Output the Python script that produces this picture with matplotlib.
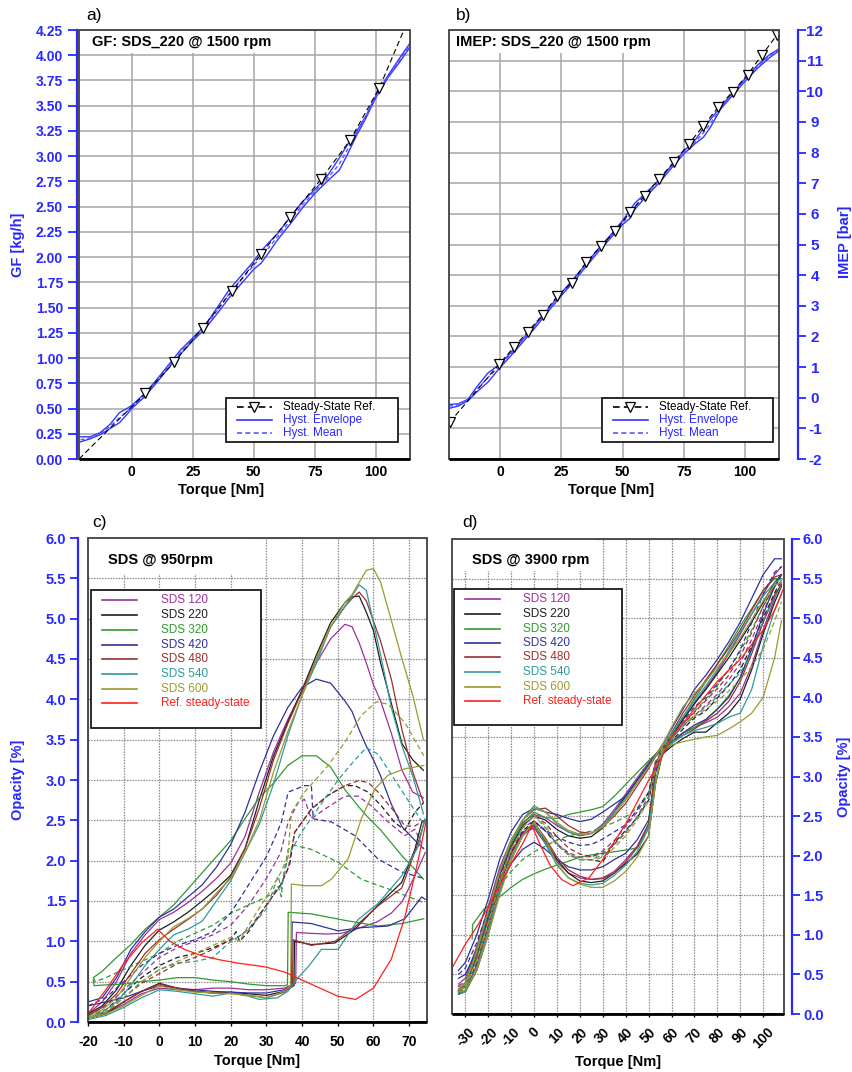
import matplotlib
matplotlib.use("Agg")
import matplotlib.pyplot as plt
from matplotlib.lines import Line2D
from matplotlib.patches import Rectangle

plt.rcParams['font.family'] = ['Liberation Sans', 'DejaVu Sans']

# ---------------- panel a: GF ----------------
A_TORQUE = [-21, -17, -13, -9, -5, -2, 0, 5, 10, 15, 20, 25, 30, 35, 40, 45, 50,
            53, 56, 60, 65, 70, 75, 80, 85, 88, 92, 96, 100, 105, 110, 114]
GF_ENV_UP = [0.22, 0.22, 0.26, 0.34, 0.46, 0.50, 0.53, 0.64, 0.78, 0.93, 1.08, 1.20, 1.32, 1.50, 1.68, 1.82, 1.96,
             2.06, 2.14, 2.24, 2.40, 2.55, 2.67, 2.80, 2.98, 3.10, 3.24, 3.40, 3.60, 3.80, 3.98, 4.12]
GF_ENV_LO = [0.17, 0.20, 0.24, 0.30, 0.36, 0.44, 0.50, 0.61, 0.75, 0.90, 1.04, 1.17, 1.29, 1.44, 1.60, 1.74, 1.88,
             1.94, 2.04, 2.18, 2.33, 2.49, 2.63, 2.75, 2.86, 3.00, 3.20, 3.38, 3.58, 3.78, 3.94, 4.08]
GF_MEAN = [0.19, 0.21, 0.25, 0.32, 0.41, 0.47, 0.515, 0.625, 0.765, 0.915, 1.06, 1.185, 1.305, 1.47, 1.64, 1.78, 1.92,
           2.00, 2.09, 2.21, 2.365, 2.52, 2.65, 2.775, 2.92, 3.05, 3.22, 3.39, 3.59, 3.79, 3.96, 4.10]
A_REF_TORQUE = [-21.6, 5.5, 17.5, 29.0, 41.0, 53.0, 65.0, 77.5, 89.5, 101.5, 111.5]
GF_REF = [0.0, 0.65, 0.96, 1.30, 1.66, 2.03, 2.40, 2.77, 3.16, 3.68, 4.25]
GF_TICKS = [0.0, 0.25, 0.5, 0.75, 1.0, 1.25, 1.5, 1.75, 2.0, 2.25, 2.5, 2.75, 3.0, 3.25, 3.5, 3.75, 4.0, 4.25]
AB_XTICKS = [0, 25, 50, 75, 100]

# ---------------- panel b: IMEP ----------------
B_TORQUE = [-20.8, -17, -13, -10, -5, 0, 5, 10, 15, 20, 25, 30, 35, 40, 45, 50, 53, 55,
            60, 65, 70, 75, 80, 83, 86, 90, 95, 100, 105, 110, 113.8]
IMEP_ENV_UP = [-0.22, -0.20, -0.05, 0.30, 0.80, 1.10, 1.52, 1.97, 2.45, 2.93, 3.42, 3.88, 4.36, 4.85, 5.30, 5.78,
               6.12, 6.35, 6.72, 7.12, 7.58, 8.05, 8.45, 8.80, 9.10, 9.50, 9.95, 10.42, 10.85, 11.20, 11.38]
IMEP_ENV_LO = [-0.35, -0.27, -0.10, 0.15, 0.50, 0.98, 1.42, 1.88, 2.35, 2.85, 3.33, 3.78, 4.27, 4.75, 5.20, 5.65,
               5.85, 6.15, 6.60, 7.02, 7.50, 7.96, 8.32, 8.50, 8.85, 9.42, 9.88, 10.33, 10.75, 11.10, 11.32]
IMEP_MEAN = [-0.28, -0.23, -0.07, 0.22, 0.65, 1.04, 1.47, 1.92, 2.40, 2.89, 3.37, 3.83, 4.31, 4.80, 5.25, 5.71,
             5.98, 6.25, 6.66, 7.07, 7.54, 8.00, 8.38, 8.65, 8.97, 9.46, 9.91, 10.37, 10.80, 11.15, 11.35]
B_REF_TORQUE = [-20.5, -0.3, 5.7, 11.4, 17.5, 23.4, 29.3, 35.2, 41.2, 47.0, 53.0, 59.0, 65.0, 71.0, 77.0,
                83.0, 89.0, 95.0, 101.0, 107.0, 113.0]
IMEP_REF = [-0.80, 1.10, 1.65, 2.16, 2.71, 3.32, 3.75, 4.43, 4.95, 5.43, 6.05, 6.59, 7.15, 7.70, 8.28,
            8.88, 9.48, 9.99, 10.54, 11.20, 11.84]
IMEP_TICKS = [-2, -1, 0, 1, 2, 3, 4, 5, 6, 7, 8, 9, 10, 11, 12]

# ---------------- panel c: opacity @ 950 rpm ----------------
SERIES = ['SDS 120', 'SDS 220', 'SDS 320', 'SDS 420', 'SDS 480', 'SDS 540', 'SDS 600']
SERIES_COLORS = ['#9b309b', '#1e1e1e', '#2f9a2f', '#30309a', '#9a2f2f', '#2f9a9a', '#9a9a2f']
REF_LABEL = 'Ref. steady-state'
REF_COLOR = '#ff1f1f'

C_UP_X = [-20, -16, -12, -8, -4, 0, 4, 8, 12, 16, 20, 24, 28, 32, 36, 40, 44, 48, 52,
          54, 56, 58, 60, 62, 65, 68, 71, 74]
C320_UP_X = [-18.5, -16, -12, -8, -4, 0, 4, 8, 12, 16, 20, 24, 28, 32, 36, 40, 44, 48, 52,
             54, 56, 58, 60, 62, 65, 68, 71, 74]
C120_UP = [0.10, 0.25, 0.50, 0.85, 1.08, 1.27, 1.36, 1.48, 1.62, 1.78, 1.97, 2.30, 2.85, 3.35, 3.75, 4.10, 4.45, 4.75, 4.93,
           4.90, 4.70, 4.45, 4.18, 3.98, 3.58, 3.12, 2.85, 2.78]
C220_UP = [0.10, 0.20, 0.40, 0.70, 0.95, 1.14, 1.24, 1.36, 1.50, 1.65, 1.82, 2.15, 2.75, 3.30, 3.72, 4.12, 4.55, 4.95, 5.20,
           5.27, 5.28, 5.08, 4.85, 4.45, 3.95, 3.45, 3.25, 3.12]
C320_UP = [0.55, 0.63, 0.80, 0.96, 1.15, 1.30, 1.45, 1.65, 1.85, 2.05, 2.25, 2.52, 2.78, 2.96, 3.18, 3.30, 3.30, 3.16, 2.88,
           2.77, 2.66, 2.56, 2.47, 2.38, 2.22, 2.06, 1.92, 1.77]
C420_UP = [0.25, 0.30, 0.55, 0.90, 1.12, 1.30, 1.40, 1.55, 1.70, 1.92, 2.20, 2.60, 3.10, 3.55, 3.90, 4.15, 4.25, 4.20, 3.98,
           3.85, 3.62, 3.42, 3.25, 3.05, 2.70, 2.42, 2.28, 2.15]
C480_UP = [0.08, 0.18, 0.35, 0.60, 0.85, 1.02, 1.15, 1.27, 1.40, 1.57, 1.80, 2.15, 2.65, 3.25, 3.70, 4.10, 4.50, 4.90, 5.15,
           5.25, 5.33, 5.22, 4.97, 4.72, 4.25, 3.62, 3.10, 2.72]
C540_UP = [0.05, 0.12, 0.25, 0.45, 0.70, 0.90, 1.08, 1.15, 1.25, 1.50, 1.75, 2.10, 2.45, 2.95, 3.55, 4.05, 4.45, 4.90, 5.15,
           5.28, 5.42, 5.35, 4.95, 4.55, 3.90, 3.42, 3.05, 2.58]
C600_UP = [0.07, 0.15, 0.30, 0.55, 0.80, 1.00, 1.18, 1.28, 1.40, 1.60, 1.78, 2.10, 2.50, 3.10, 3.60, 4.05, 4.50, 4.90, 5.20,
           5.30, 5.45, 5.60, 5.62, 5.45, 4.98, 4.50, 4.05, 3.50]

C120_LO_X = [-20, -15, -10, -5, 0, 5, 10, 15, 20, 25, 30, 35, 38.2, 38.4, 42, 47, 51, 55, 61, 65, 68, 71.6, 74.5]
C120_LO = [0.05, 0.10, 0.22, 0.35, 0.42, 0.40, 0.40, 0.42, 0.42, 0.40, 0.40, 0.42, 0.48, 1.11, 1.10, 1.09, 1.10, 1.15,
           1.24, 1.35, 1.49, 1.81, 2.10]
C220_LO_X = [-20, -15, -10, -5, 0, 5, 10, 15, 20, 25, 30, 35, 37.7, 37.9, 42.6, 49.2, 54.8, 61.3, 67.9, 71.6, 73.5, 74.5]
C220_LO = [0.05, 0.10, 0.25, 0.38, 0.48, 0.42, 0.38, 0.36, 0.37, 0.35, 0.33, 0.38, 0.45, 1.00, 0.96, 0.98, 1.15, 1.45,
           1.73, 2.14, 2.47, 2.50]
C320_LO_X = [-18.5, -18.3, -15, -10, -5, 0, 5, 10, 15, 20, 25, 30, 35, 35.9, 36.1, 42.6, 52, 61.3, 67.9, 74.1]
C320_LO = [0.52, 0.45, 0.46, 0.47, 0.50, 0.52, 0.55, 0.55, 0.52, 0.50, 0.47, 0.45, 0.45, 0.46, 1.36, 1.34, 1.26, 1.19,
           1.22, 1.28]
C420_LO_X = [-20, -15, -10, -5, 0, 5, 10, 15, 20, 25, 30, 35, 37.0, 37.2, 42.6, 50.1, 56.6, 64.1, 68.8, 73.5, 74.5]
C420_LO = [0.20, 0.25, 0.30, 0.38, 0.45, 0.42, 0.40, 0.38, 0.37, 0.36, 0.36, 0.40, 0.45, 1.24, 1.22, 1.13, 1.17, 1.19,
           1.28, 1.55, 1.52]
C480_LO_X = [-20, -15, -10, -5, 0, 5, 10, 15, 20, 25, 30, 35, 37.3, 37.5, 42.6, 49.2, 54.8, 61.3, 67.9, 72.5, 74.4]
C480_LO = [0.05, 0.12, 0.25, 0.38, 0.47, 0.42, 0.38, 0.36, 0.36, 0.33, 0.30, 0.37, 0.45, 1.02, 0.95, 1.00, 1.18, 1.44,
           1.66, 2.22, 2.50]
C540_LO_X = [-20, -15, -10, -5, 0, 5, 10, 15, 20, 25, 28, 33, 36, 38.9, 42, 45.4, 50.1, 55.7, 61.3, 67.9, 72.5, 74.4]
C540_LO = [0.03, 0.08, 0.18, 0.30, 0.40, 0.38, 0.35, 0.32, 0.36, 0.32, 0.28, 0.30, 0.38, 0.55, 0.70, 0.90, 0.90, 1.27,
           1.47, 1.81, 2.17, 2.52]
C600_LO_X = [-20, -15, -10, -5, 0, 5, 10, 15, 20, 25, 30, 35, 36.8, 37.0, 40.7, 45.4, 48.2, 52.9, 56.6, 60.4, 64.1, 68.8, 74.1]
C600_LO = [0.05, 0.10, 0.20, 0.33, 0.45, 0.40, 0.37, 0.36, 0.35, 0.33, 0.30, 0.38, 0.45, 1.71, 1.69, 1.69, 1.77, 2.02,
           2.52, 2.89, 3.06, 3.14, 3.18]

C120_MEAN_X = [-20, -15, -10, -5, 0, 5, 10, 15, 20, 25, 30, 34, 36.1, 38.9, 40.7, 42.6, 46.4, 52, 55.7, 59.4, 64.1, 68.8, 71.6, 74.1]
C120_MEAN = [0.08, 0.20, 0.40, 0.60, 0.80, 0.92, 1.00, 1.08, 1.20, 1.45, 1.78, 2.10, 2.48, 2.72, 2.76, 2.52, 2.64, 2.80,
             2.80, 2.68, 2.48, 2.31, 2.39, 2.15]
C220_MEAN_X = [-20, -15, -10, -5, 0, 5, 10, 15, 20, 21.5, 22.5, 25, 30, 34, 36.5, 37.9, 42.6, 47.3, 52, 54.8, 58.5, 62.2,
               66, 68.8, 71.6, 74.1]
C220_MEAN = [0.08, 0.15, 0.35, 0.55, 0.70, 0.80, 0.85, 0.92, 1.02, 1.12, 1.00, 1.12, 1.45, 1.70, 1.95, 2.35, 2.64, 2.81,
             2.93, 2.93, 2.85, 2.68, 2.47, 2.38, 2.60, 2.72]
C320_MEAN_X = [-18.5, -18, -15, -10, -5, 0, 5, 10, 15, 20, 25, 30, 32, 33.3, 34.2, 34.5, 36.1, 37.9, 42.6, 50.1, 56.6, 64.1, 74.1]
C320_MEAN = [0.55, 0.50, 0.55, 0.65, 0.75, 0.85, 1.00, 1.10, 1.20, 1.35, 1.45, 1.55, 1.60, 1.68, 1.55, 1.75, 2.14, 2.19,
             2.14, 1.98, 1.77, 1.65, 1.48]
C420_MEAN_X = [-20, -15, -10, -5, 0, 5, 10, 15, 20, 25, 30, 33, 34.2, 36.1, 40.7, 42.6, 43.1, 48.2, 54.8, 61.3, 67.9, 74.1]
C420_MEAN = [0.20, 0.30, 0.50, 0.70, 0.85, 0.95, 1.02, 1.12, 1.35, 1.70, 2.05, 2.35, 2.48, 2.85, 2.93, 2.93, 2.52, 2.48,
             2.31, 2.02, 1.86, 1.78]
C480_MEAN_X = [-20, -15, -10, -5, 0, 5, 10, 15, 20, 22, 25, 30, 34, 36.1, 37.9, 42.6, 47.3, 52, 55.7, 58.5, 61.3, 66,
               68.8, 71.6, 74.1]
C480_MEAN = [0.05, 0.12, 0.30, 0.48, 0.60, 0.72, 0.80, 0.90, 1.02, 1.05, 1.15, 1.45, 1.70, 1.90, 2.35, 2.64, 2.81, 2.93,
             2.99, 2.97, 2.85, 2.60, 2.43, 2.43, 2.50]
C540_MEAN_X = [-20, -15, -10, -5, 0, 5, 10, 15, 20, 22, 25, 30, 33.3, 34.2, 36.1, 39.8, 44.5, 50.1, 54.8, 58, 61.3, 66,
               70.7, 74.1]
C540_MEAN = [0.05, 0.15, 0.30, 0.50, 0.65, 0.73, 0.75, 0.80, 1.00, 1.05, 1.15, 1.40, 1.81, 1.65, 2.06, 2.35, 2.65, 3.00,
             3.25, 3.40, 3.32, 3.00, 2.68, 2.45]
C600_MEAN_X = [-20, -15, -10, -5, 0, 5, 10, 15, 20, 22.5, 25, 30, 34, 36, 37, 40.7, 47.3, 52, 56.6, 60.8, 64.1, 68.8, 74.1]
C600_MEAN = [0.05, 0.12, 0.30, 0.50, 0.65, 0.75, 0.85, 0.95, 1.05, 1.00, 1.20, 1.55, 1.85, 2.05, 2.60, 2.85, 3.18, 3.47,
             3.80, 3.97, 3.94, 3.71, 3.30]

RED_C_X = [-20, -15, -10, -5, -0.5, 3, 7, 12, 17, 22, 27, 30, 35, 40, 45, 50, 55, 60, 65, 68.8, 72.5, 74.8]
RED_C = [0.10, 0.40, 0.72, 0.98, 1.15, 1.00, 0.90, 0.82, 0.77, 0.73, 0.70, 0.68, 0.62, 0.52, 0.42, 0.32, 0.28, 0.42,
         0.78, 1.30, 2.00, 2.50]
C_XTICKS = [-20, -10, 0, 10, 20, 30, 40, 50, 60, 70]
OPAC_TICKS = [0.0, 0.5, 1.0, 1.5, 2.0, 2.5, 3.0, 3.5, 4.0, 4.5, 5.0, 5.5, 6.0]

# ---------------- panel d: opacity @ 3900 rpm ----------------
XD = [-33, -30, -25, -20, -15, -10, -5, 0, 5, 10, 15, 20, 25, 30, 35, 40, 45, 50, 53, 56,
      60, 65, 70, 75, 80, 85, 90, 95, 100, 105, 108]
D120_UP = [0.38, 0.45, 0.85, 1.35, 1.85, 2.20, 2.42, 2.52, 2.48, 2.38, 2.30, 2.25, 2.28, 2.40, 2.58, 2.78, 2.98, 3.18,
           3.28, 3.36, 3.50, 3.72, 3.92, 4.12, 4.32, 4.55, 4.80, 5.05, 5.30, 5.55, 5.65]
D120_LO = [0.35, 0.35, 0.70, 1.20, 1.68, 2.05, 2.28, 2.35, 2.15, 1.92, 1.78, 1.72, 1.70, 1.72, 1.80, 1.95, 2.12, 2.40,
           3.10, 3.32, 3.45, 3.55, 3.62, 3.68, 3.75, 3.88, 4.05, 4.40, 4.85, 5.25, 5.45]
D120_MEAN = [0.36, 0.40, 0.78, 1.28, 1.76, 2.12, 2.35, 2.44, 2.32, 2.15, 2.04, 1.98, 1.99, 2.06, 2.19, 2.37, 2.55, 2.79,
             3.19, 3.34, 3.48, 3.64, 3.77, 3.90, 4.04, 4.22, 4.43, 4.73, 5.08, 5.40, 5.55]
D220_UP = [0.28, 0.35, 0.75, 1.25, 1.75, 2.12, 2.38, 2.50, 2.45, 2.33, 2.25, 2.22, 2.24, 2.35, 2.55, 2.75, 2.95, 3.15,
           3.26, 3.35, 3.52, 3.72, 3.92, 4.10, 4.30, 4.50, 4.72, 4.95, 5.20, 5.45, 5.55]
D220_LO = [0.25, 0.28, 0.55, 1.00, 1.55, 1.95, 2.25, 2.38, 2.18, 1.95, 1.78, 1.68, 1.66, 1.68, 1.78, 1.90, 2.02, 2.25,
           2.90, 3.28, 3.38, 3.48, 3.56, 3.56, 3.68, 3.80, 3.98, 4.35, 4.80, 5.20, 5.40]
D220_MEAN = [0.26, 0.32, 0.65, 1.12, 1.65, 2.03, 2.31, 2.44, 2.31, 2.14, 2.02, 1.95, 1.95, 1.92, 2.16, 2.32, 2.48, 2.70,
             3.08, 3.32, 3.45, 3.60, 3.74, 3.83, 3.99, 4.15, 4.35, 4.65, 5.00, 5.32, 5.48]
D320_UP = [0.30, 0.40, 0.82, 1.32, 1.80, 2.15, 2.40, 2.55, 2.48, 2.47, 2.52, 2.55, 2.58, 2.62, 2.75, 2.90, 3.05, 3.20,
           3.28, 3.36, 3.52, 3.75, 3.98, 4.20, 4.42, 4.65, 4.90, 5.12, 5.35, 5.50, 5.50]
D320_LO_X = [-27, -26.8, -22, -15, -10, -5, 0, 5, 10, 15, 20, 25, 30, 35, 40, 45, 50, 53, 56,
             60, 65, 70, 75, 80, 85, 90, 95, 100, 105, 108]
D320_LO = [0.95, 1.13, 1.32, 1.48, 1.60, 1.70, 1.77, 1.83, 1.88, 1.93, 1.98, 2.01, 2.03, 2.05, 2.07, 2.10, 2.35, 3.05,
           3.30, 3.45, 3.55, 3.62, 3.72, 3.85, 4.02, 4.25, 4.60, 4.95, 5.28, 5.42]
D320_MEAN = [0.30, 0.35, 0.75, 1.22, 1.62, 1.80, 1.95, 2.05, 2.12, 2.20, 2.25, 2.28, 2.31, 2.36, 2.42, 2.49, 2.60, 2.80,
             3.15, 3.35, 3.48, 3.66, 3.82, 3.98, 4.15, 4.35, 4.58, 4.85, 5.15, 5.40, 5.46]
D420_UP = [0.55, 0.65, 1.00, 1.45, 1.95, 2.30, 2.52, 2.60, 2.55, 2.52, 2.47, 2.43, 2.46, 2.55, 2.65, 2.75, 2.95, 3.15,
           3.27, 3.40, 3.60, 3.85, 4.10, 4.28, 4.48, 4.70, 4.95, 5.25, 5.55, 5.75, 5.75]
D420_LO = [0.45, 0.50, 0.80, 1.20, 1.62, 1.90, 2.08, 2.17, 2.08, 1.95, 1.86, 1.82, 1.82, 1.86, 1.95, 2.03, 2.20, 2.45,
           3.05, 3.28, 3.42, 3.55, 3.65, 3.72, 3.85, 4.00, 4.25, 4.62, 5.05, 5.40, 5.55]
D420_MEAN = [0.50, 0.58, 0.90, 1.32, 1.78, 2.10, 2.30, 2.40, 2.32, 2.24, 2.17, 2.13, 2.14, 2.21, 2.30, 2.39, 2.58, 2.80,
             3.16, 3.34, 3.51, 3.70, 3.88, 4.00, 4.17, 4.35, 4.60, 4.94, 5.30, 5.58, 5.65]
D480_UP = [0.30, 0.38, 0.80, 1.30, 1.80, 2.18, 2.45, 2.58, 2.60, 2.50, 2.38, 2.30, 2.28, 2.36, 2.50, 2.66, 2.88, 3.10,
           3.25, 3.35, 3.55, 3.80, 4.02, 4.22, 4.42, 4.62, 4.85, 5.10, 5.35, 5.52, 5.55]
D480_LO = [0.28, 0.30, 0.62, 1.10, 1.62, 2.02, 2.28, 2.42, 2.22, 1.98, 1.82, 1.74, 1.70, 1.71, 1.78, 1.92, 2.10, 2.40,
           3.10, 3.30, 3.42, 3.52, 3.60, 3.70, 3.80, 3.95, 4.20, 4.55, 4.95, 5.30, 5.42]
D480_MEAN = [0.29, 0.34, 0.71, 1.20, 1.71, 2.10, 2.36, 2.50, 2.41, 2.24, 2.10, 2.02, 1.99, 2.03, 2.14, 2.29, 2.49, 2.75,
             3.17, 3.32, 3.48, 3.66, 3.81, 3.96, 4.11, 4.28, 4.52, 4.82, 5.15, 5.41, 5.48]
D540_UP = [0.30, 0.35, 0.78, 1.28, 1.78, 2.18, 2.45, 2.63, 2.55, 2.40, 2.30, 2.26, 2.28, 2.38, 2.55, 2.72, 2.92, 3.12,
           3.26, 3.38, 3.55, 3.75, 3.95, 4.15, 4.35, 4.58, 4.82, 5.05, 5.28, 5.45, 5.50]
D540_LO = [0.25, 0.28, 0.58, 1.05, 1.55, 1.98, 2.25, 2.40, 2.15, 1.88, 1.72, 1.65, 1.63, 1.65, 1.75, 1.88, 2.05, 2.35,
           2.95, 3.30, 3.42, 3.52, 3.58, 3.62, 3.67, 3.75, 3.80, 4.10, 4.65, 5.10, 5.30]
D540_MEAN = [0.27, 0.31, 0.68, 1.16, 1.66, 2.08, 2.35, 2.51, 2.35, 2.14, 2.01, 1.95, 1.95, 2.01, 2.15, 2.30, 2.48, 2.73,
             3.10, 3.34, 3.48, 3.63, 3.76, 3.88, 4.01, 4.16, 4.31, 4.57, 4.96, 5.27, 5.40]
D600_UP = [0.32, 0.38, 0.80, 1.30, 1.80, 2.20, 2.45, 2.60, 2.55, 2.42, 2.32, 2.27, 2.28, 2.36, 2.52, 2.70, 2.92, 3.12,
           3.26, 3.40, 3.62, 3.88, 4.05, 4.20, 4.38, 4.55, 4.75, 4.98, 5.22, 5.42, 5.45]
D600_LO = [0.28, 0.30, 0.55, 1.00, 1.50, 1.95, 2.25, 2.42, 2.20, 1.90, 1.72, 1.64, 1.60, 1.60, 1.68, 1.80, 1.98, 2.25,
           2.90, 3.33, 3.40, 3.44, 3.47, 3.50, 3.52, 3.60, 3.69, 3.80, 4.00, 4.50, 4.97]
D600_MEAN = [0.30, 0.34, 0.68, 1.15, 1.65, 2.08, 2.35, 2.51, 2.38, 2.16, 2.02, 1.96, 1.94, 1.98, 2.10, 2.25, 2.45, 2.69,
             3.08, 3.37, 3.51, 3.66, 3.76, 3.85, 3.95, 4.08, 4.22, 4.39, 4.61, 4.96, 5.21]
RED_D_X = [-35.8, -30, -25, -20, -15, -10, -5, -1, 3, 7, 12, 17, 24, 30, 40, 50, 55, 60, 70, 80, 90, 100, 105, 109]
RED_D = [0.58, 0.88, 1.10, 1.35, 1.62, 1.90, 2.15, 2.38, 2.12, 1.88, 1.70, 1.62, 1.72, 1.95, 2.40, 2.95, 3.20, 3.50,
         3.85, 4.20, 4.48, 4.85, 5.10, 5.38]
D_XTICKS = [-30, -20, -10, 0, 10, 20, 30, 40, 50, 60, 70, 80, 90, 100]

# ======================= drawing =======================
W, H = 853, 1072
fig = plt.figure(figsize=(W / 100, H / 100), dpi=100)
BLUE = '#2828ff'
HYST = '#3535ff'
HYST_MEAN = '#5a5aff'
PT = 0.72  # points per pixel


def fx(x):
    return x / W


def fy(y):
    return 1 - y / H


def add_ax(l, t, r, b):
    return fig.add_axes([l / W, 1 - b / H, (r - l) / W, (b - t) / H])


def style(ax, side, out_px, tick_px, pad_px, ysize, yticks, ylabels, xticks, xsize, xtick_px, xpad_px,
          grid_kw, xrot=0):
    for s in ax.spines.values():
        s.set_visible(False)
    sp = ax.spines[side]
    sp.set_visible(True)
    sp.set_color(BLUE)
    sp.set_linewidth(1.6)
    sp.set_position(('outward', out_px * PT))
    if side == 'right':
        ax.yaxis.tick_right()
    ax.set_yticks(yticks, labels=ylabels, fontsize=ysize, fontweight='bold')
    ax.tick_params(axis='y', colors=BLUE, length=tick_px * PT, width=1.3, pad=pad_px * PT)
    ax.set_xticks(xticks, labels=[str(v) for v in xticks], fontsize=xsize, fontweight='bold', rotation=xrot)
    ax.tick_params(axis='x', colors='black', length=xtick_px * PT, width=1.0, pad=xpad_px * PT)
    ax.grid(True, **grid_kw)
    ax.set_axisbelow(True)
    ax.add_patch(Rectangle((0, 0), 1, 1, transform=ax.transAxes, fill=False, ec='#404040', lw=1.3,
                           clip_on=False, zorder=8))
    ax.plot([0, 1], [0, 0], transform=ax.transAxes, color='black', lw=2.0, clip_on=False, zorder=9,
            solid_capstyle='butt')


def draw_legend(box, line_x, text_x, rows, fontsize):
    l, t, r, b = box
    fig.add_artist(Rectangle((fx(l), fy(b)), (r - l) / W, (b - t) / H, transform=fig.transFigure,
                             fc='white', ec='#1a1a1a', lw=1.3, zorder=20))
    for y, color, ls, marker, label, tcolor in rows:
        fig.add_artist(Line2D([fx(line_x[0]), fx(line_x[1])], [fy(y), fy(y)], transform=fig.transFigure,
                              color=color, ls=ls, lw=1.2, zorder=21))
        if marker:
            fig.add_artist(Line2D([fx((line_x[0] + line_x[1]) / 2)], [fy(y)], transform=fig.transFigure,
                                  marker='v', ms=6.5, mfc='white', mec='black', mew=0.9, ls='none', zorder=22))
        fig.text(fx(text_x), fy(y), label, color=tcolor, fontsize=fontsize, va='center', ha='left', zorder=22)


GRID_AB = dict(color='#a6a6a6', lw=1.1, ls='-')
GRID_CD = dict(color='#8a8a8a', lw=0.9, ls=(0, (1.2, 1.0)))

# ---------------- panel a ----------------
ax = add_ax(79, 30, 410, 459)
ax.set_xlim(-21.6, 114)
ax.set_ylim(0, 4.25)
style(ax, 'left', 2, 9, 5, 10, GF_TICKS, [f'{v:.2f}' for v in GF_TICKS], AB_XTICKS, 10, 0, 6, GRID_AB)
ax.add_patch(Rectangle((-21.6, 4.02), 91.6, 0.23, fc='white', ec='none', zorder=1))
ax.plot(A_TORQUE, GF_ENV_UP, color=HYST, lw=1.0, zorder=3)
ax.plot(A_TORQUE, GF_ENV_LO, color=HYST, lw=1.0, zorder=3)
ax.plot(A_TORQUE, GF_MEAN, color=HYST_MEAN, lw=1.0, ls=(0, (3, 2)), zorder=3)
ax.plot(A_REF_TORQUE, GF_REF, color='black', lw=0.8, ls=(0, (5, 3)), zorder=4)
ax.plot(A_REF_TORQUE[1:-1], GF_REF[1:-1], ls='none', marker='v', ms=6.5, mfc='white', mec='black', mew=0.9,
        zorder=5)
ax.text(0.04, 0.972, 'GF: SDS_220 @ 1500 rpm', transform=ax.transAxes, fontsize=10.5, fontweight='bold',
        va='center', ha='left', zorder=6)

# ---------------- panel b ----------------
bx = add_ax(449, 30, 779, 459)
bx.set_xlim(-20.8, 113.8)
bx.set_ylim(-2, 12)
style(bx, 'right', 19, 8, 9, 11, IMEP_TICKS, [str(v) for v in IMEP_TICKS], AB_XTICKS, 10, 0, 6, GRID_AB)
for t in bx.get_yticklabels():
    t.set_ha('center')
bx.add_patch(Rectangle((-20.8, 11.25), 88.8, 0.75, fc='white', ec='none', zorder=1))
bx.plot(B_TORQUE, IMEP_ENV_UP, color=HYST, lw=1.0, zorder=3)
bx.plot(B_TORQUE, IMEP_ENV_LO, color=HYST, lw=1.0, zorder=3)
bx.plot(B_TORQUE, IMEP_MEAN, color=HYST_MEAN, lw=1.0, ls=(0, (3, 2)), zorder=3)
bx.plot(B_REF_TORQUE, IMEP_REF, color='black', lw=0.8, ls=(0, (5, 3)), zorder=4)
bx.plot(B_REF_TORQUE, IMEP_REF, ls='none', marker='v', ms=6.5, mfc='white', mec='black', mew=0.9, zorder=5)
bx.text(0.02, 0.972, 'IMEP: SDS_220 @ 1500 rpm', transform=bx.transAxes, fontsize=10.5, fontweight='bold',
        va='center', ha='left', zorder=6)

# ---------------- panel c ----------------
cx = add_ax(88, 538, 427, 1022)
cx.set_xlim(-20, 75)
cx.set_ylim(0, 6)
style(cx, 'left', 10, 8, 4, 10.5, OPAC_TICKS, [f'{v:.1f}' for v in OPAC_TICKS], C_XTICKS, 10, 4, 9, GRID_CD)
cx.add_patch(Rectangle((-20, 5.55), 45, 0.45, fc='white', ec='none', zorder=1))
c_up = [(C_UP_X, C120_UP), (C_UP_X, C220_UP), (C320_UP_X, C320_UP), (C_UP_X, C420_UP),
        (C_UP_X, C480_UP), (C_UP_X, C540_UP), (C_UP_X, C600_UP)]
c_lo = [(C120_LO_X, C120_LO), (C220_LO_X, C220_LO), (C320_LO_X, C320_LO), (C420_LO_X, C420_LO),
        (C480_LO_X, C480_LO), (C540_LO_X, C540_LO), (C600_LO_X, C600_LO)]
c_mean = [(C120_MEAN_X, C120_MEAN), (C220_MEAN_X, C220_MEAN), (C320_MEAN_X, C320_MEAN), (C420_MEAN_X, C420_MEAN),
          (C480_MEAN_X, C480_MEAN), (C540_MEAN_X, C540_MEAN), (C600_MEAN_X, C600_MEAN)]
for col, up, lo, mn in zip(SERIES_COLORS, c_up, c_lo, c_mean):
    cx.plot(*up, color=col, lw=0.9, zorder=3)
    cx.plot(*lo, color=col, lw=0.9, zorder=3)
    cx.plot(*mn, color=col, lw=0.9, ls=(0, (4, 2.5)), zorder=3)
cx.plot(RED_C_X, RED_C, color=REF_COLOR, lw=0.9, zorder=4)
cx.text(0.06, 0.955, 'SDS @ 950rpm', transform=cx.transAxes, fontsize=10.5, fontweight='bold',
        va='center', ha='left', zorder=6)

# ---------------- panel d ----------------
dx = add_ax(452, 539, 784, 1014)
dx.set_xlim(-35.8, 109.1)
dx.set_ylim(0, 6)
style(dx, 'right', 8, 7.5, 3.5, 10.5, OPAC_TICKS, [f'{v:.1f}' for v in OPAC_TICKS], D_XTICKS, 10, 3, 8, GRID_CD,
      xrot=45)
dx.add_patch(Rectangle((-35.8, 5.6), 62, 0.4, fc='white', ec='none', zorder=1))
d_sets = [(XD, D120_UP, XD, D120_LO, D120_MEAN), (XD, D220_UP, XD, D220_LO, D220_MEAN),
          (XD, D320_UP, D320_LO_X, D320_LO, D320_MEAN), (XD, D420_UP, XD, D420_LO, D420_MEAN),
          (XD, D480_UP, XD, D480_LO, D480_MEAN), (XD, D540_UP, XD, D540_LO, D540_MEAN),
          (XD, D600_UP, XD, D600_LO, D600_MEAN)]
for col, (xu, yu, xl, yl, ym) in zip(SERIES_COLORS, d_sets):
    dx.plot(xu, yu, color=col, lw=0.9, zorder=3)
    dx.plot(xl, yl, color=col, lw=0.9, zorder=3)
    dx.plot(XD, ym, color=col, lw=0.9, ls=(0, (4, 2.5)), zorder=3)
dx.plot(RED_D_X, RED_D, color=REF_COLOR, lw=0.9, zorder=4)
dx.text(0.06, 0.955, 'SDS @ 3900 rpm', transform=dx.transAxes, fontsize=10.5, fontweight='bold',
        va='center', ha='left', zorder=6)

# ---------------- legends ----------------
ab_rows = [(406.7, 'black', (0, (4, 2.5)), True, 'Steady-State Ref.', 'black'),
           (420.0, HYST, '-', False, 'Hyst. Envelope', BLUE),
           (433.3, HYST_MEAN, (0, (3, 2)), False, 'Hyst. Mean', BLUE)]
draw_legend((226, 398, 398, 442), (237, 272), 283, ab_rows, 8.5)
draw_legend((602, 398, 773, 442), (613, 648), 659, ab_rows, 8.5)

c_rows_y = [600, 615, 630, 644.5, 659, 674, 689, 703]
d_rows_y = [599, 614, 629, 643, 657, 672, 687, 701]
labels = SERIES + [REF_LABEL]
colors = SERIES_COLORS + [REF_COLOR]
draw_legend((91, 590, 261, 728), (102, 137), 161,
            [(y, c, '-', False, l, c) for y, c, l in zip(c_rows_y, colors, labels)], 8.5)
draw_legend((454, 589, 622, 725), (465, 500), 523,
            [(y, c, '-', False, l, c) for y, c, l in zip(d_rows_y, colors, labels)], 8.5)

# ---------------- labels ----------------
fig.text(fx(86), fy(15.5), 'a)', fontsize=12.5, va='center', ha='left')
fig.text(fx(456), fy(15.5), 'b)', fontsize=12.5, va='center', ha='left')
fig.text(fx(92), fy(522), 'c)', fontsize=12.5, va='center', ha='left')
fig.text(fx(462), fy(523), 'd)', fontsize=12.5, va='center', ha='left')

fig.text(fx(221), fy(490), 'Torque [Nm]', fontsize=10.5, fontweight='bold', ha='center', va='center')
fig.text(fx(611), fy(490), 'Torque [Nm]', fontsize=10.5, fontweight='bold', ha='center', va='center')
fig.text(fx(257), fy(1061), 'Torque [Nm]', fontsize=10.5, fontweight='bold', ha='center', va='center')
fig.text(fx(618), fy(1062), 'Torque [Nm]', fontsize=10.5, fontweight='bold', ha='center', va='center')

fig.text(fx(18), fy(245), 'GF [kg/h]', fontsize=10.5, fontweight='bold', color=BLUE, rotation=90,
         ha='center', va='center')
fig.text(fx(845), fy(242), 'IMEP [bar]', fontsize=10.5, fontweight='bold', color=BLUE, rotation=90,
         ha='center', va='center')
fig.text(fx(18), fy(780), 'Opacity [%]', fontsize=10.5, fontweight='bold', color=BLUE, rotation=90,
         ha='center', va='center')
fig.text(fx(844), fy(777), 'Opacity [%]', fontsize=10.5, fontweight='bold', color=BLUE, rotation=90,
         ha='center', va='center')

fig.savefig('out.png', dpi=100)
